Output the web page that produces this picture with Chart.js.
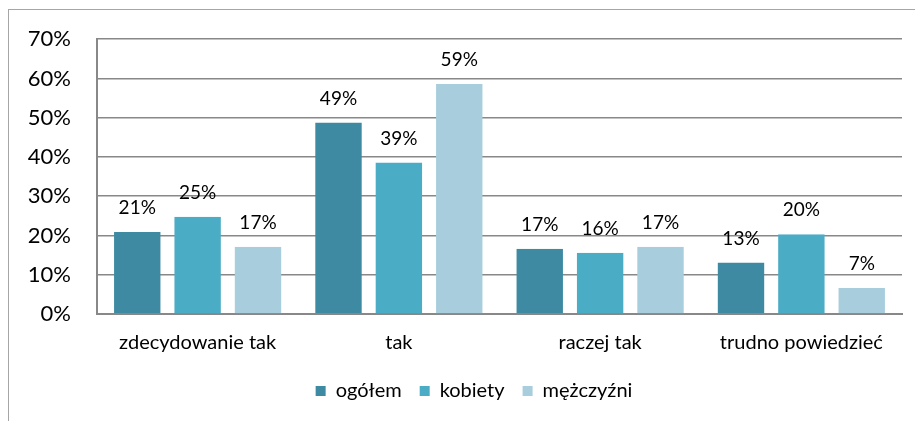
<!DOCTYPE html>
<html>
<head>
<meta charset="utf-8">
<script src="https://cdn.jsdelivr.net/npm/chart.js@4.4.1/dist/chart.umd.min.js"></script>
<style>
  html, body { margin:0; padding:0; background:#fff; overflow:hidden; }
  #wrap { position:relative; width:915px; height:421px; }
  #frame { position:absolute; left:8px; top:9px; width:1000px; height:1000px;
           border-left:1px solid #a6a6a6; border-top:1px solid #a6a6a6; }
  #c { position:absolute; left:0; top:0; }
</style>
</head>
<body>
<div id="wrap">
  <div id="frame"></div>
  <canvas id="c" width="915" height="421"></canvas>
</div>
<script>
// categories and series (percent)
var categories = ["zdecydowanie tak", "tak", "raczej tak", "trudno powiedzieć"];
var ogolem     = [20.9, 48.8, 16.6, 13.1];
var kobiety    = [24.8, 38.6, 15.6, 20.3];
var mezczyzni  = [17.1, 58.6, 17.1, 6.6];
var yTicks     = [0, 10, 20, 30, 40, 50, 60, 70];

var FONT = "Lato, 'Liberation Sans', sans-serif";

// value labels above bars
var barLabels = {
    id: "barLabels",
    afterDatasetsDraw: function(chart) {
        var ctx = chart.ctx;
        ctx.save();
        ctx.font = "19px " + FONT;
        ctx.fillStyle = "#000";
        ctx.textAlign = "center";
        ctx.textBaseline = "middle";
        chart.data.datasets.forEach(function(ds, i) {
            chart.getDatasetMeta(i).data.forEach(function(bar, j) {
                ctx.fillText(Math.round(ds.data[j]) + "%", bar.x, bar.y - 24);
            });
        });
        ctx.restore();
    }
};

// legend sits a bit right of the canvas centre in the original
var legendShift = {
    id: "legendShift",
    afterLayout: function(chart) {
        if (chart.legend) {
            chart.legend.left += 23;
            chart.legend.right += 23;
        }
    }
};

var gap = {top:0, bottom:0, left:7, right:7};
var clear = "rgba(0,0,0,0)";

var chart = new Chart(document.getElementById("c"), {
    type: "bar",
    plugins: [barLabels, legendShift],
    data: {
        labels: categories,
        datasets: [
            { label:"ogółem", data:ogolem, backgroundColor:"#3d8aa2", borderColor:clear, borderWidth:gap, borderSkipped:false },
            { label:"kobiety", data:kobiety, backgroundColor:"#4bacc6", borderColor:clear, borderWidth:gap, borderSkipped:false },
            { label:"mężczyźni", data:mezczyzni, backgroundColor:"#a8cedd", borderColor:clear, borderWidth:gap, borderSkipped:false }
        ]
    },
    options: {
        responsive: false,
        animation: false,
        layout: { padding: { top:39, right:13, bottom:10, left:0 } },
        categoryPercentage: 0.9,
        barPercentage: 1.0,
        plugins: {
            tooltip: { enabled:false },
            legend: {
                position: "bottom",
                labels: {
                    boxWidth: 10, boxHeight: 10, padding: 18,
                    color: "#000",
                    font: { family: FONT, size: 20 }
                }
            }
        },
        scales: {
            x: {
                grid: { display:false, drawTicks:false },
                border: { color:"#888", width:2 },
                ticks: { color:"#000", padding:17, font:{ family:FONT, size:20 } },
                afterFit: function(s) { s.height = 49; }
            },
            y: {
                min: 0, max: 70,
                afterBuildTicks: function(s) { s.ticks = yTicks.map(function(v){ return {value:v}; }); },
                grid: { color:"#888", lineWidth:1.5, drawTicks:false },
                border: { color:"#888", width:2 },
                ticks: {
                    color:"#000", padding:26,
                    font:{ family:FONT, size:22 },
                    callback: function(v) { return v + "%"; }
                },
                afterFit: function(s) { s.width = 97; }
            }
        }
    }
});
</script>
</body>
</html>
